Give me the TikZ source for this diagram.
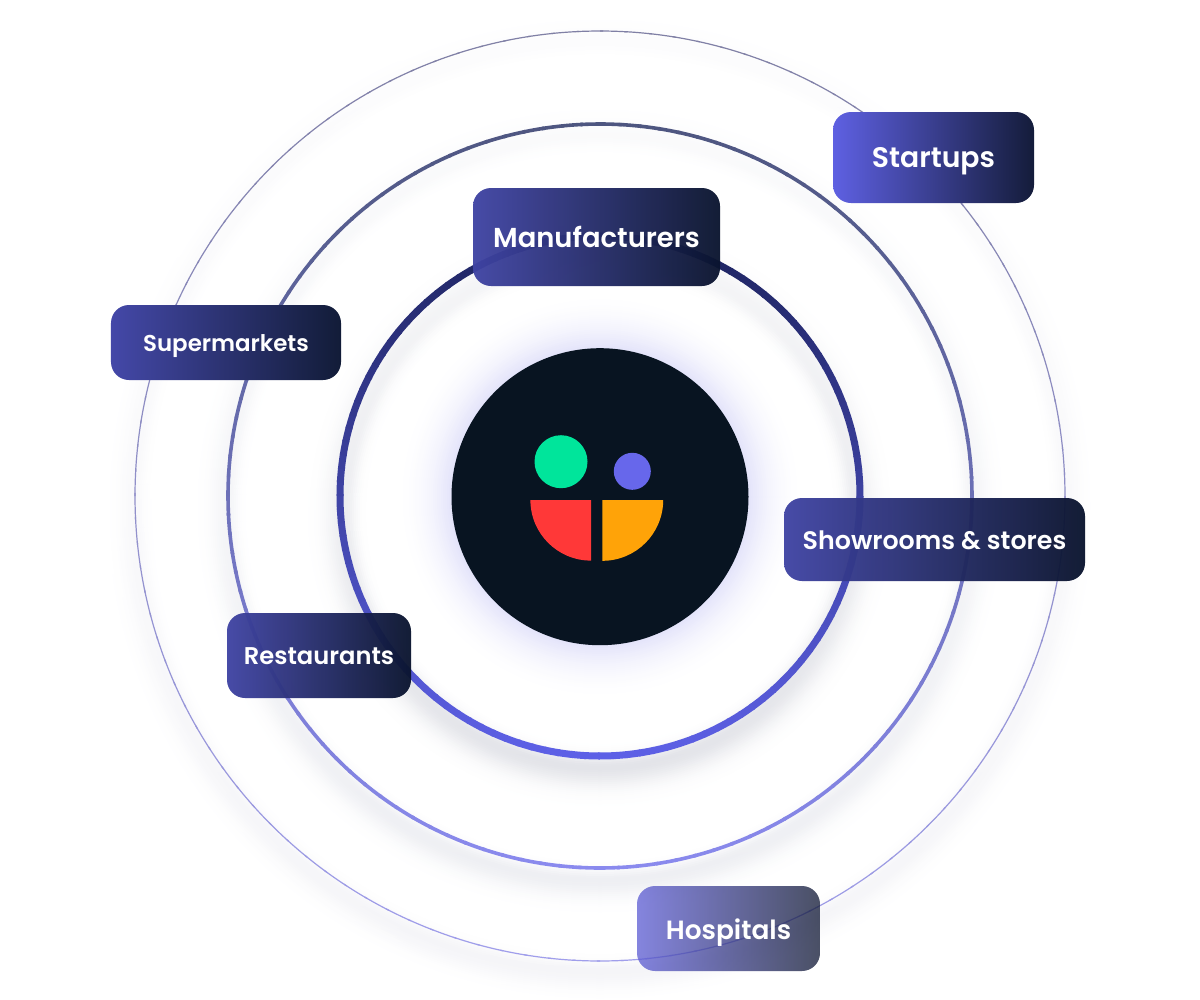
\documentclass[tikz,border=0pt]{standalone}
\usepackage{fontspec}
\setmainfont{Poppins}
\newfontfamily\lbl{Poppins SemiBold}
\definecolor{core}{HTML}{081421}
\definecolor{glowA}{HTML}{E2E2FA}
\definecolor{shA}{HTML}{E3E4E9}
\definecolor{shB}{HTML}{EEEFF3}
\definecolor{shC}{HTML}{F5F5F8}
\definecolor{outT}{RGB}{128,128,165}
\definecolor{outB}{RGB}{160,158,235}
\definecolor{midT}{RGB}{78,86,128}
\definecolor{midB}{RGB}{138,138,238}
\definecolor{innT}{RGB}{30,36,96}
\definecolor{innB}{RGB}{93,96,230}
\definecolor{greenDot}{RGB}{0,229,155}
\definecolor{blueDot}{RGB}{103,103,235}
\definecolor{redQ}{RGB}{255,56,56}
\definecolor{orangeQ}{RGB}{255,163,8}
\tikzset{
  card/.style={rectangle,rounded corners=18bp,inner sep=0pt,text=white,
    shade,shading=axis,shading angle=90,fill opacity=#1,text opacity=1,text depth=0pt},
  card/.default=0.96,
  dot/.style={circle,inner sep=0pt},
}
% soft shadow: concentric discs, outermost first, fainter towards the top
% args: cy, r1, r2, rlast, peak, sigma inside, sigma outside, colour, top share
\newcommand{\softband}[9]{%
  \foreach \rr [evaluate=\rr as \pp using {100*exp(-((\rr-#5)/ifthenelse(\rr<#5,#6,#7))*((\rr-#5)/ifthenelse(\rr<#5,#6,#7)))},
                evaluate=\rr as \qq using {#9*100*exp(-((\rr-#5)/ifthenelse(\rr<#5,#6,#7))*((\rr-#5)/ifthenelse(\rr<#5,#6,#7)))}] in {#2,#3,...,#4}
    {\shade[top color=#8!\qq!white,bottom color=#8!\pp!white] (600,#1) circle[radius=\rr];}}
% gradient ring: short overlapping arcs coloured by height
% args: radius, width, top colour, bottom colour
\newcommand{\gradring}[4]{%
  \foreach \aa [evaluate=\aa as \pp using {50*(1-sin(\aa))}] in {-90,-87,...,267}
    {\draw[#3!\pp!#4,line width=#2] (600,496) ++(\aa:#1) arc[start angle=\aa,delta angle=3.4,radius=#1];}}
\begin{document}
\begin{tikzpicture}[x=1bp,y=-1bp]
\useasboundingbox (0,0) rectangle (1200,1000);
\fill[white] (0,0) rectangle (1200,1000);
% soft shadows
\softband{506}{504}{502}{430}{466}{10}{16}{shC}{0.3}
\softband{508}{424}{422}{340}{373}{10}{17}{shB}{0.3}
\softband{512}{320}{318}{222}{256}{11}{19}{shA}{0.35}
\foreach \rr [evaluate=\rr as \pp using {100*((205-\rr)/57)*((205-\rr)/57)}] in {205,203,...,149}
  {\fill[glowA!\pp!white] (600,496.7) circle[radius=\rr];}
% rings
\gradring{465}{1.2bp}{outT}{outB}
\gradring{372}{3.6bp}{midT}{midB}
\gradring{260}{7bp}{innT}{innB}
% core and logo
\node[dot,fill=core,minimum size=297bp] (hub) at (600,496.7) {};
\node[dot,fill=greenDot,minimum size=53bp] (dotA) at (561,461.7) {};
\node[dot,fill=blueDot,minimum size=37bp] (dotB) at (632.3,471.3) {};
\fill[redQ] (591,500) -- (530.4,500) arc[start angle=180,end angle=90,radius=60.6] -- cycle;
\fill[orangeQ] (602.4,500) -- (663.2,500) arc[start angle=0,end angle=90,radius=60.8] -- cycle;
% cards
\node[card=1,left color={rgb,255:red,94;green,96;blue,226},right color={rgb,255:red,20;green,28;blue,58},minimum width=201bp,minimum height=91bp,text height=19.6bp,font=\lbl\fontsize{28.4}{30}\selectfont] (startups) at (933.5,157.5) {Startups};
\node[card,left color={rgb,255:red,64;green,68;blue,164},right color={rgb,255:red,10;green,20;blue,46},minimum width=247bp,minimum height=98bp,text height=20bp,font=\lbl\fontsize{27.5}{30}\selectfont] (manu) at (596.5,237) {Manufacturers};
\node[card=1,left color={rgb,255:red,68;green,72;blue,168},right color={rgb,255:red,18;green,28;blue,56},minimum width=230bp,minimum height=75bp,text height=17bp,font=\lbl\fontsize{23}{26}\selectfont] (super) at (226,342.5) {Supermarkets};
\node[card,left color={rgb,255:red,64;green,68;blue,164},right color={rgb,255:red,10;green,20;blue,46},minimum width=301bp,minimum height=83bp,text height=19.6bp,font=\lbl\fontsize{25.4}{28}\selectfont] (show) at (934.5,539.5) {Showrooms \& stores};
\node[card,left color={rgb,255:red,64;green,68;blue,164},right color={rgb,255:red,10;green,20;blue,46},minimum width=184bp,minimum height=85bp,text height=18bp,font=\lbl\fontsize{24.3}{28}\selectfont] (rest) at (319,655.5) {Restaurants};
\node[card=0.75,left color={rgb,255:red,92;green,92;blue,212},right color={rgb,255:red,14;green,22;blue,50},minimum width=183bp,minimum height=85bp,text height=21bp,font=\lbl\fontsize{26.5}{30}\selectfont] (hosp) at (728.5,928.5) {Hospitals};
\end{tikzpicture}
\end{document}
